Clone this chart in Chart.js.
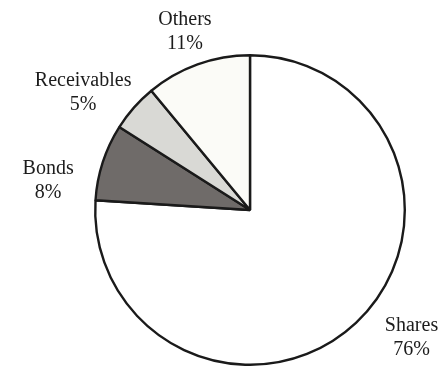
<!DOCTYPE html>
<html>
<head>
<meta charset="utf-8">
<script src="https://cdn.jsdelivr.net/npm/chart.js@4/dist/chart.umd.min.js"></script>
<style>
  html, body { margin: 0; padding: 0; background: #ffffff; }
  canvas { display: block; }
</style>
</head>
<body>
<canvas id="assetChart" width="443" height="368"></canvas>
<script>
// ASSET MIX

const categories = ["Shares", "Bonds", "Receivables", "Others"];
const shares = [76, 8, 5, 11];
const sliceColors = ["#ffffff", "#6f6b69", "#d9d9d5", "#fbfbf7"];

// small nudges so the captions sit like in a printed figure
const labelNudge = [[22, -21], [-8, 34], [-14, 18], [4, 14]];

const sliceLabels = {
  id: "sliceLabels",
  afterDatasetsDraw(chart) {
    const ctx = chart.ctx;
    const arcs = chart.getDatasetMeta(0).data;
    ctx.save();
    ctx.font = "20px 'Liberation Serif', 'Times New Roman', serif";
    ctx.fillStyle = "#1c1c1c";
    ctx.textAlign = "center";
    ctx.textBaseline = "middle";
    arcs.forEach((arc, i) => {
      const p = arc.getProps(["x", "y", "startAngle", "endAngle", "outerRadius"], true);
      const mid = (p.startAngle + p.endAngle) / 2;
      const d = p.outerRadius + 49;
      const cx = p.x + Math.cos(mid) * d + labelNudge[i][0];
      const cy = p.y + Math.sin(mid) * d + labelNudge[i][1];
      ctx.fillText(categories[i], cx, cy - 12);
      ctx.fillText(shares[i] + "%", cx, cy + 12);
    });
    ctx.restore();
  }
};

new Chart(document.getElementById("assetChart"), {
  type: "pie",
  data: {
    labels: categories,
    datasets: [{
      data: shares,
      backgroundColor: sliceColors,
      borderColor: "#1a1a1a",
      borderWidth: 2.4
    }]
  },
  options: {
    responsive: false,
    animation: false,
    layout: {
      padding: { left: 94, right: 37, top: 54, bottom: 2 }
    },
    plugins: {
      legend: { display: false },
      tooltip: { enabled: false }
    }
  },
  plugins: [sliceLabels]
});
</script>
</body>
</html>
